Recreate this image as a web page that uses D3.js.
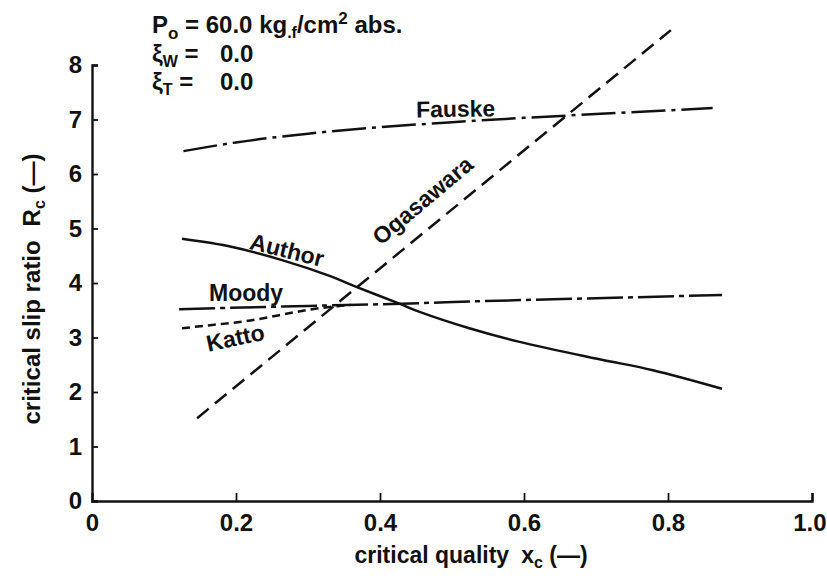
<!DOCTYPE html>
<html>
<head>
<meta charset="utf-8">
<script src="https://cdn.jsdelivr.net/npm/d3@7"></script>
<style>
  html, body { margin: 0; padding: 0; background: #fff; }
  svg { display: block; }
  text { font-family: "Liberation Sans", Arial, sans-serif; font-weight: bold; fill: #111; }
</style>
</head>
<body>
<svg id="chart" width="827" height="583"></svg>
<script>
// Critical slip ratio versus critical quality, several correlations
const xTicks = [0, 0.2, 0.4, 0.6, 0.8, 1.0];
const xTickLabels = ["0", "0.2", "0.4", "0.6", "0.8", "1.0"];
const yTicks = [0, 1, 2, 3, 4, 5, 6, 7, 8];

const authorX = [0.125, 0.195, 0.264, 0.33, 0.367, 0.427, 0.455, 0.524, 0.594, 0.705, 0.779, 0.875];
const authorY = [4.81, 4.66, 4.42, 4.13, 3.93, 3.62, 3.47, 3.17, 2.92, 2.6, 2.4, 2.06];

const moodyX = [0.121, 0.3, 0.455, 0.524, 0.7, 0.875];
const moodyY = [3.52, 3.58, 3.63, 3.66, 3.72, 3.78];

const kattoX = [0.125, 0.167, 0.214, 0.26, 0.306, 0.36];
const kattoY = [3.17, 3.23, 3.3, 3.41, 3.52, 3.6];

const fauskeX = [0.127, 0.2, 0.3, 0.4, 0.5, 0.6, 0.7, 0.862];
const fauskeY = [6.42, 6.58, 6.74, 6.86, 6.95, 7.03, 7.1, 7.21];

const ogasawaraX = [0.146, 0.804];
const ogasawaraY = [1.52, 8.64];

const svg = d3.select("#chart");
const mLeft = 92, mRight = 812, mTop = 65, mBottom = 501;

const x = d3.scaleLinear().domain([0, 1]).range([mLeft, mRight]);
const y = d3.scaleLinear().domain([0, 8]).range([mBottom, mTop]);

// axes: ticks point inward
const xAxis = d3.axisBottom(x).tickValues(xTicks).tickSize(-8)
  .tickFormat((d, i) => xTickLabels[i]).tickPadding(13);
const yAxis = d3.axisLeft(y).tickValues(yTicks).tickSize(-6).tickPadding(10);

const gx = svg.append("g").attr("transform", `translate(0,${mBottom})`).call(xAxis);
const gy = svg.append("g").attr("transform", `translate(${mLeft},0)`).call(yAxis);
[gx, gy].forEach(g => {
  g.select(".domain").attr("stroke", "#111").attr("stroke-width", 2.4);
  g.selectAll(".tick line").attr("stroke", "#111").attr("stroke-width", 1.8);
  g.selectAll(".tick text").style("font-size", "24px").style("font-weight", "bold")
    .attr("fill", "#111").attr("font-family", "Liberation Sans, Arial, sans-serif");
});
gx.selectAll(".tick").filter(d => d === 0).select("line").remove();
gx.selectAll(".tick text").attr("dy", "0.72em");
// last label sits flush with the right edge
gx.selectAll(".tick").filter(d => d === 1).select("text")
  .attr("text-anchor", "end").attr("x", 826 - mRight);

// curves
function draw(xs, ys, dash, curve) {
  const pts = xs.map((v, i) => [v, ys[i]]);
  const line = d3.line().x(d => x(d[0])).y(d => y(d[1])).curve(curve);
  svg.append("path").datum(pts).attr("d", line)
    .attr("fill", "none").attr("stroke", "#111").attr("stroke-width", 2.5)
    .attr("stroke-dasharray", dash);
}
draw(authorX, authorY, null, d3.curveCatmullRom.alpha(0.5));
draw(moodyX, moodyY, "36,5,5,5", d3.curveMonotoneX);
draw(kattoX, kattoY, "8,5", d3.curveMonotoneX);
draw(fauskeX, fauskeY, "34,6,4,6", d3.curveMonotoneX);
draw(ogasawaraX, ogasawaraY, "15,8", d3.curveLinear);

// curve labels (centred on the given point)
function label(txt, xv, yv, angle) {
  svg.append("text").attr("transform", `translate(${x(xv)},${y(yv)}) rotate(${angle})`)
    .attr("text-anchor", "middle").attr("dy", "0.36em")
    .style("font-size", "23px").text(txt);
}
label("Fauske", 0.505, 7.2, -1);
label("Ogasawara", 0.459, 5.52, -40);
label("Author", 0.271, 4.61, 14);
label("Moody", 0.214, 3.83, 0);
label("Katto", 0.199, 3.0, -12);

// condition annotation
const ann = svg.append("g").style("font-size", "24px");
const t1 = ann.append("text").attr("x", 152).attr("y", 33);
t1.append("tspan").text("P");
t1.append("tspan").attr("dy", 6).style("font-size", "17px").text("o");
t1.append("tspan").attr("dy", -6).text(" = 60.0 kg");
t1.append("tspan").attr("dy", 5).style("font-size", "16px").text(".f");
t1.append("tspan").attr("dy", -5).text("/cm");
t1.append("tspan").attr("dy", -9).style("font-size", "17px").text("2");
t1.append("tspan").attr("dy", 9).text(" abs.");

[["W", 62], ["T", 90]].forEach(([sub, yy]) => {
  const t = ann.append("text").attr("x", 152).attr("y", yy);
  t.append("tspan").text("ξ");
  t.append("tspan").attr("dy", 5).style("font-size", "16px").text(sub);
  t.append("tspan").attr("dy", -5).text(" =");
  ann.append("text").attr("x", 220).attr("y", yy).text("0.0");
});

// axis titles
const xt = svg.append("text").attr("x", 471).attr("y", 563)
  .attr("text-anchor", "middle").style("font-size", "23px");
xt.append("tspan").text("critical quality");
xt.append("tspan").attr("dx", 12).text("x");
xt.append("tspan").attr("dy", 5).style("font-size", "16px").text("c");
xt.append("tspan").attr("dy", -5).text(" (—)");

const yt = svg.append("text").attr("transform", "translate(40,289) rotate(-90)")
  .attr("text-anchor", "middle").style("font-size", "24px");
yt.append("tspan").text("critical slip ratio");
yt.append("tspan").attr("dx", 14).text("R");
yt.append("tspan").attr("dy", 5).style("font-size", "16px").text("c");
yt.append("tspan").attr("dy", -5).text(" (—)");
</script>
</body>
</html>
